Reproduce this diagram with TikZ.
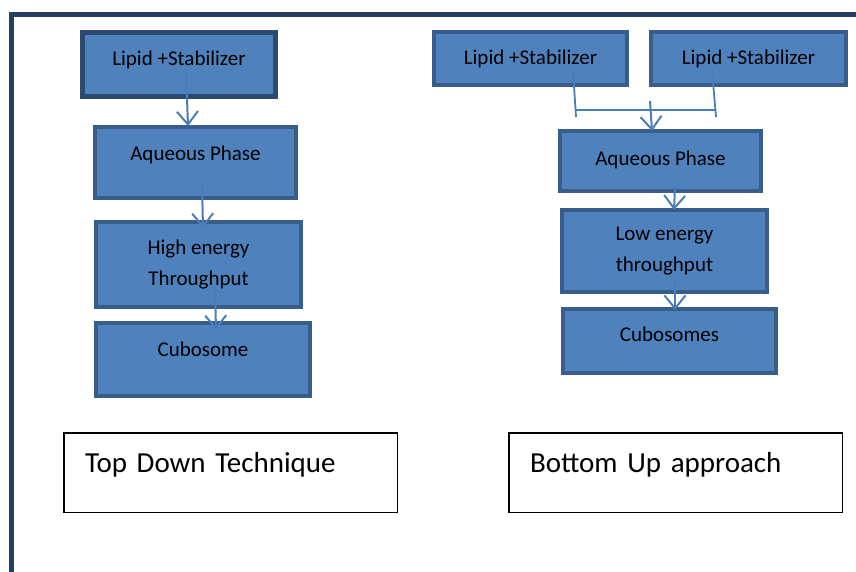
\documentclass[tikz,border=0pt]{standalone}
\usepackage{fontspec}
\setmainfont{Carlito}
\usetikzlibrary{arrows.meta,positioning,calc}
\definecolor{flowblue}{RGB}{79,129,189}
\definecolor{flowedge}{RGB}{56,93,138}
\definecolor{flowedgedark}{RGB}{44,74,112}
\definecolor{flowline}{RGB}{74,126,187}
\definecolor{framenavy}{RGB}{36,63,96}
\tikzset{
  flow box/.style={
    draw=flowedge,
    fill=flowblue,
    line width=4pt,
    inner sep=2pt,
    align=center,
    font=\fontsize{21}{31}\selectfont,
  },
  lift/.style={
    text height=15pt,
    text depth=#1,
  },
  label box/.style={
    draw=black,
    fill=white,
    line width=1.5pt,
    inner xsep=21pt,
    text width=291pt,
    align=left,
    text height=20pt,
    text depth=21pt,
    font=\fontsize{29}{35}\selectfont,
  },
  flow arrow/.style={
    -{Straight Barb[length=13pt,width=21pt]},
    line width=2pt,
    draw=flowline,
  },
  flow line/.style={
    line width=1.8pt,
    draw=flowline,
  },
}
\begin{document}
\begin{tikzpicture}[x=1pt,y=-1pt]
  \useasboundingbox (0,0) rectangle (856,572);
  \draw[framenavy, line width=5pt] (11.5,572) |- (856,14.5);

  % top down column
  \node[flow box, draw=flowedgedark, line width=5pt, minimum width=193pt, minimum height=64pt, lift=13.4pt] (lipid) at (179,64.5) {Lipid +Stabilizer};
  \node[flow box, minimum width=201pt, minimum height=71pt, lift=19.4pt] (aqueous) at (195.5,162.5) {Aqueous Phase};
  \node[flow box, minimum width=205pt, minimum height=85pt] (high) at (198.5,264.5) {High energy\\Throughput};
  \node[flow box, minimum width=214pt, minimum height=73pt, lift=21.4pt] (cubosome) at (203,359.5) {Cubosome};

  \draw[flow arrow] ($(lipid.center)+(7,5.5)$) -- ($(aqueous.north)+(-7.5,1)$);
  \draw[flow arrow] ($(aqueous.center)+(6.5,20.5)$) -- ($(high.north)+(4.5,8)$);
  \draw[flow arrow] ($(high.center)+(16.5,22.5)$) -- ($(cubosome.north)+(13,9)$);

  % bottom up column
  \node[flow box, minimum width=193pt, minimum height=53pt, lift=3pt] (lipidA) at (530.5,58.5) {Lipid +Stabilizer};
  \node[flow box, minimum width=195pt, minimum height=53pt, lift=3pt] (lipidB) at (748.5,58.5) {Lipid +Stabilizer};
  \node[flow box, minimum width=201pt, minimum height=60pt, lift=6.4pt] (aqueousB) at (660.5,161) {Aqueous Phase};
  \node[flow box, minimum width=205pt, minimum height=82pt] (low) at (664.5,251) {Low energy\\throughput};
  \node[flow box, minimum width=213pt, minimum height=64pt, lift=13.4pt] (cubosomes) at (669.5,341) {Cubosomes};

  \coordinate (joinA) at ($(lipidA.center)+(45.5,58.5)$);
  \coordinate (joinB) at ($(lipidB.center)+(-32.5,58.5)$);
  \draw[flow line] ($(lipidA.center)+(42.5,11.5)$) -- (joinA);
  \draw[flow line] ($(lipidB.center)+(-36.5,11.5)$) -- (joinB);
  \draw[flow line] ($(joinA)+(0,-7)$) -- ($(joinB)+(0,-7)$);
  \draw[flow arrow] ($(aqueousB.north)+(-10.5,-28)$) -- ($(aqueousB.north)+(-8.5,2)$);
  \draw[flow arrow] ($(aqueousB.center)+(14.5,26)$) -- ($(low.north)+(9.5,2)$);
  \draw[flow arrow] ($(low.center)+(10.5,29)$) -- ($(cubosomes.north)+(5.5,3)$);

  % captions
  \node[label box, minimum width=333.5pt, minimum height=79.5pt] (topdown) at (230.5,472.5) {Top Down Technique};
  \node[label box, minimum width=333.5pt, minimum height=79.5pt] (bottomup) at (675.5,472.5) {Bottom Up approach};
\end{tikzpicture}
\end{document}
